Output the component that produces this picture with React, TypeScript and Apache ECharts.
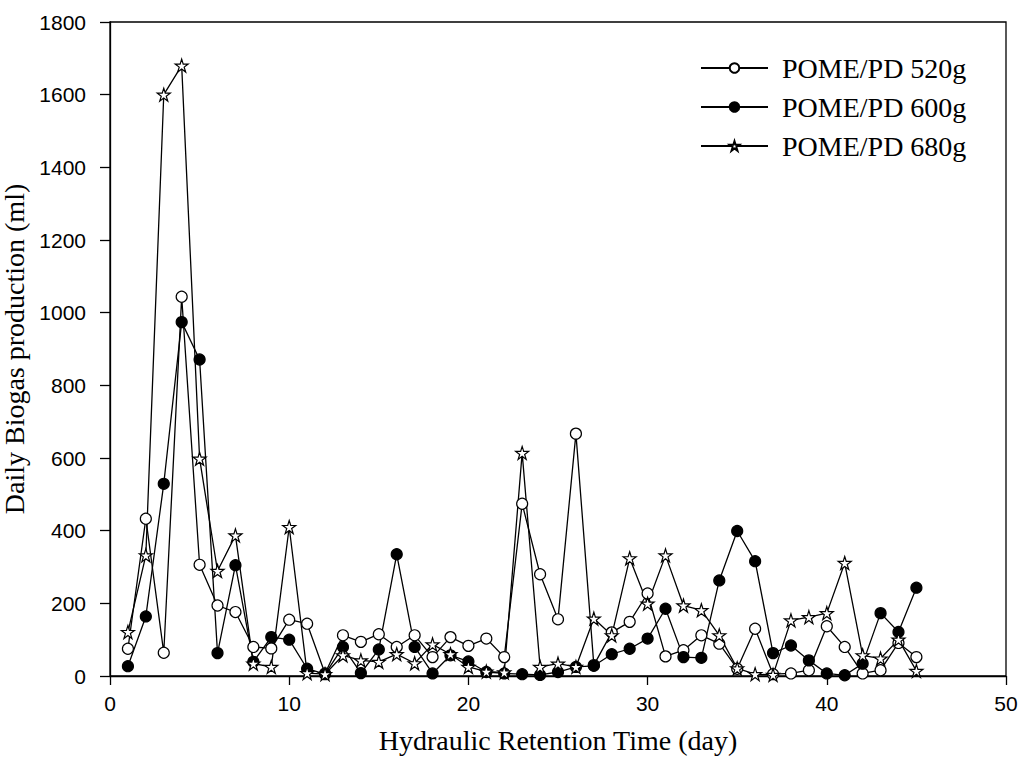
import React, { useEffect, useRef } from "react";
import * as echarts from "echarts";

const days = [
  1, 2, 3, 4, 5, 6, 7, 8, 9, 10, 11, 12, 13, 14, 15, 16, 17, 18, 19, 20, 21, 22, 23,
  24, 25, 26, 27, 28, 29, 30, 31, 32, 33, 34, 35, 36, 37, 38, 39, 40, 41, 42, 43, 44, 45,
];

const pome520 = [
  75, 433, 64, 1044, 306, 194, 176, 80, 76, 155, 144, 7, 112, 94, 115, 80, 112, 52, 107, 83,
  103, 52, 474, 280, 156, 667, 30, 120, 149, 227, 54, 71, 112, 89, 20, 130, 5, 7, 16, 137,
  80, 7, 16, 91, 52,
];

const pome600 = [
  27, 164, 529, 974, 871, 63, 305, 39, 107, 100, 20, 5, 80, 8, 73, 335, 80, 7, 57, 40, 11,
  7, 5, 3, 11, 25, 28, 60, 75, 103, 185, 52, 50, 263, 399, 316, 63, 84, 43, 7, 2, 34, 173,
  121, 243,
];

const pome680 = [
  121, 332, 1600, 1680, 598, 289, 387, 34, 25, 410, 8, 5, 57, 43, 39, 60, 35, 87, 60, 25,
  12, 10, 614, 25, 34, 25, 158, 112, 324, 199, 332, 194, 181, 112, 21, 5, 3, 153, 162, 173,
  311, 57, 48, 100, 14,
];

const seriesNames = ["POME/PD 520g", "POME/PD 600g", "POME/PD 680g"];
const xTicks = { min: 0, max: 50, interval: 10 };
const yTicks = { min: 0, max: 1800, interval: 200 };

const STAR =
  "path://M50,2 L61.2,36.5 L97.6,36.5 L68.2,57.8 L79.4,92.4 L50,71 L20.6,92.4 L31.8,57.8 L2.4,36.5 L38.8,36.5 Z";

export default function App() {
  const ref = useRef<HTMLDivElement>(null);

  useEffect(() => {
    if (!ref.current) return;
    const chart = echarts.init(ref.current, undefined, { renderer: "svg" });
    const serif = "'Liberation Serif', 'Times New Roman', serif";
    const sans = "'Liberation Sans', Arial, sans-serif";
    const pair = (vals: number[]) => days.map((d, i) => [d, vals[i]]);

    const common = {
      type: "line" as const,
      lineStyle: { color: "#000", width: 1.3 },
      z: 3,
    };

    chart.setOption({
      animation: false,
      backgroundColor: "#fff",
      grid: {
        left: 110,
        right: 16,
        top: 22,
        bottom: 82,
        show: true,
        borderColor: "#000",
        borderWidth: 1.3,
        containLabel: false,
        outerBoundsMode: "none",
      },
      legend: {
        orient: "vertical",
        left: 700,
        top: 53,
        padding: 0,
        itemWidth: 67,
        itemHeight: 12,
        itemGap: 9,
        textStyle: { fontFamily: serif, fontSize: 28, color: "#000", lineHeight: 30, padding: [0, 0, 0, 9] },
        data: seriesNames,
      },
      xAxis: {
        type: "value",
        min: xTicks.min,
        max: xTicks.max,
        interval: xTicks.interval,
        name: "Hydraulic Retention Time (day)",
        nameLocation: "middle",
        nameGap: 50,
        nameTextStyle: { fontFamily: serif, fontSize: 28, color: "#000" },
        axisLine: { lineStyle: { color: "#000", width: 1.3 } },
        axisTick: { inside: false, length: 9, lineStyle: { color: "#000", width: 1.3 } },
        axisLabel: { fontFamily: sans, fontSize: 21, color: "#000", margin: 17, formatter: (v: number) => String(v) },
        splitLine: { show: false },
      },
      yAxis: {
        type: "value",
        min: yTicks.min,
        max: yTicks.max,
        interval: yTicks.interval,
        name: "Daily Biogas production (ml)",
        nameLocation: "middle",
        nameGap: 70,
        nameTextStyle: { fontFamily: serif, fontSize: 28, color: "#000" },
        axisLine: { lineStyle: { color: "#000", width: 1.3 } },
        axisTick: { inside: false, length: 10, lineStyle: { color: "#000", width: 1.3 } },
        axisLabel: { fontFamily: sans, fontSize: 21, color: "#000", margin: 24, formatter: (v: number) => String(v) },
        splitLine: { show: false },
      },
      series: [
        {
          ...common,
          name: seriesNames[0],
          data: pair(pome520),
          symbol: "circle",
          symbolSize: 11,
          itemStyle: { color: "#fff", borderColor: "#000", borderWidth: 1.2 },
        },
        {
          ...common,
          name: seriesNames[1],
          data: pair(pome600),
          symbol: "circle",
          symbolSize: 11,
          itemStyle: { color: "#000", borderColor: "#000", borderWidth: 1.2 },
        },
        {
          ...common,
          name: seriesNames[2],
          data: pair(pome680),
          symbol: STAR,
          symbolSize: 13,
          itemStyle: { color: "#fff", borderColor: "#000", borderWidth: 1.2 },
        },
      ],
    });

    return () => chart.dispose();
  }, []);

  return <div ref={ref} style={{ width: 1022, height: 758, position: "absolute", left: 0, top: 0 }} />;
}
